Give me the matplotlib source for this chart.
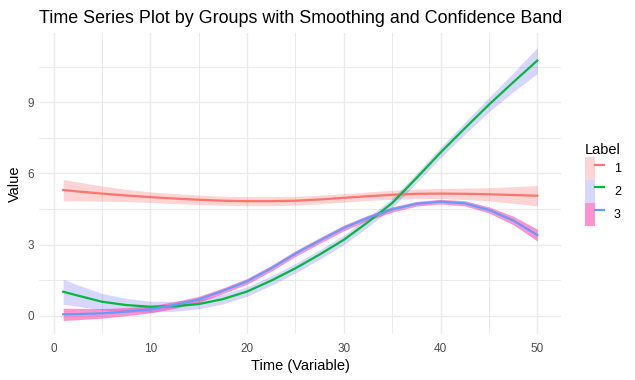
import matplotlib
matplotlib.use("Agg")
import matplotlib.pyplot as plt
from matplotlib.patches import Rectangle
from matplotlib.lines import Line2D
from matplotlib.legend_handler import HandlerTuple

plt.rcParams["font.family"] = ["Liberation Sans", "DejaVu Sans"]

# smoothed values, one list per group
time = [1, 2.5, 5, 7.5, 10, 12.5, 15, 17.5, 20, 22.5, 25, 27.5, 30, 32.5, 35, 37.5, 40, 42.5, 45, 47.5, 50]

fit_1 = [5.30, 5.24, 5.15, 5.07, 5.00, 4.94, 4.89, 4.85, 4.83, 4.83, 4.85, 4.90, 4.97, 5.04, 5.10, 5.14, 5.15, 5.14, 5.12, 5.09, 5.06]
se_1 = [0.45, 0.40, 0.32, 0.26, 0.22, 0.21, 0.20, 0.19, 0.19, 0.19, 0.19, 0.18, 0.18, 0.18, 0.19, 0.20, 0.21, 0.24, 0.28, 0.35, 0.43]

fit_2 = [1.01, 0.85, 0.59, 0.45, 0.38, 0.40, 0.49, 0.70, 1.02, 1.48, 2.00, 2.58, 3.20, 3.95, 4.75, 5.80, 6.88, 7.90, 8.90, 9.84, 10.76]
se_2 = [0.53, 0.45, 0.35, 0.28, 0.23, 0.21, 0.20, 0.20, 0.20, 0.20, 0.20, 0.20, 0.20, 0.20, 0.20, 0.20, 0.22, 0.25, 0.30, 0.40, 0.55]

fit_3 = [0.06, 0.07, 0.10, 0.17, 0.27, 0.45, 0.69, 1.05, 1.45, 2.00, 2.62, 3.17, 3.70, 4.13, 4.48, 4.72, 4.81, 4.74, 4.46, 4.02, 3.40]
se_3 = [0.26, 0.24, 0.20, 0.17, 0.15, 0.14, 0.13, 0.12, 0.12, 0.12, 0.12, 0.12, 0.12, 0.11, 0.11, 0.10, 0.10, 0.11, 0.13, 0.18, 0.25]

labels = ["1", "2", "3"]
line_colors = ["#F8766D", "#00BA38", "#619CFF"]
band_colors = ["#FF0000", "#0000FF", "#FF1493"]
band_alpha = [0.17, 0.16, 0.46]

fig = plt.figure(figsize=(6.35, 3.8), dpi=100)
ax = fig.add_axes([0.0622, 0.1205, 0.8213, 0.7932])

groups = [(fit_1, se_1), (fit_2, se_2), (fit_3, se_3)]
handles = []
for (fit, se), lab, lc, bc, ba in zip(groups, labels, line_colors, band_colors, band_alpha):
    lo = [f - s for f, s in zip(fit, se)]
    hi = [f + s for f, s in zip(fit, se)]
    ax.fill_between(time, lo, hi, color=bc, alpha=ba, linewidth=0)
    ax.plot(time, fit, color=lc, linewidth=1.6)
    patch = Rectangle((0, 0), 1, 1, facecolor=bc, alpha=ba, linewidth=0)
    ln = Line2D([], [], color=lc, linewidth=1.6)
    handles.append((patch, ln))

ax.set_xlim(-1.45, 52.45)
ax.set_ylim(-0.78, 11.93)
ax.set_xticks([0, 10, 20, 30, 40, 50])
ax.set_xticks([5, 15, 25, 35, 45], minor=True)
ax.set_yticks([0, 3, 6, 9])
ax.set_yticks([1.5, 4.5, 7.5, 10.5], minor=True)
ax.grid(which="major", color="#EBEBEB", linewidth=1.0)
ax.grid(which="minor", color="#EBEBEB", linewidth=0.7)
ax.set_axisbelow(True)
for s in ax.spines.values():
    s.set_visible(False)
ax.tick_params(which="both", length=0, labelsize=8.45, labelcolor="#4D4D4D")
ax.tick_params(axis="x", pad=6)
ax.tick_params(axis="y", pad=4)

ax.set_xlabel("Time (Variable)", fontsize=10.5, labelpad=3)
ax.set_ylabel("Value", fontsize=10.5, labelpad=4)
fig.text(0.0622 + 0.8213 / 2, 1 - 22.7 / 380,
         "Time Series Plot by Groups with Smoothing and Confidence Band",
         fontsize=12.9, ha="center", va="baseline")

leg = fig.legend(handles, labels, handler_map={tuple: HandlerTuple(ndivide=None, pad=0)},
                 loc="center left", bbox_to_anchor=(579 / 635, 0.515), frameon=False,
                 fontsize=9, title="Label", title_fontsize=10.5, alignment="left",
                 handlelength=1.5, handleheight=2.45, labelspacing=0.0,
                 handletextpad=0.8, borderpad=0)

fig.savefig("out.png", dpi=100)
